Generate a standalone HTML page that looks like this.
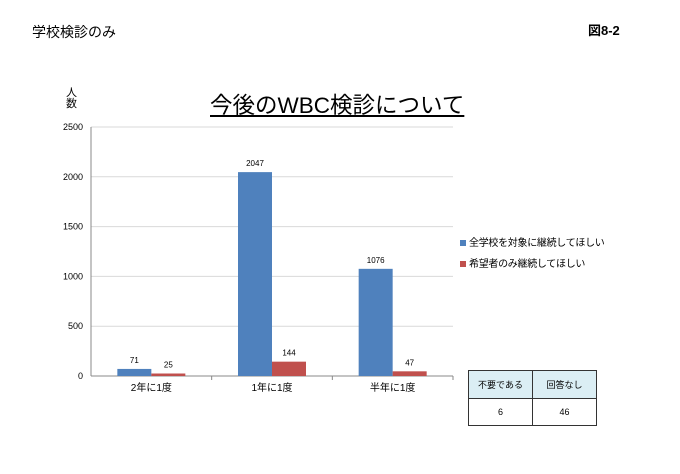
<!DOCTYPE html>
<html><head><meta charset="utf-8"><style>
body{margin:0;width:680px;height:474px;background:#fff;font-family:"Liberation Sans","Noto Sans CJK JP",sans-serif;position:relative;overflow:hidden}
.a{position:absolute}
</style></head><body>
<div class="a" style="left:32px;top:22px;font-size:14px">学校検診のみ</div>
<div class="a" style="left:588px;top:20px;font-size:13px;font-weight:bold">図8-2</div>
<div class="a" style="left:210px;top:88px;font-size:22.5px;text-decoration:underline">今後のWBC検診について</div>
<div class="a" style="left:66px;top:88px;font-size:11px;line-height:11px;width:12px">人<br>数</div>
<svg class="a" style="left:0;top:0" width="680" height="474" id="c"></svg>
<div class="a" style="left:460px;top:234px;font-size:10px;letter-spacing:-0.3px"><span style="display:inline-block;width:6px;height:6px;background:#4f81bd;margin-right:3px"></span>全学校を対象に継続してほしい</div>
<div class="a" style="left:460px;top:255px;font-size:10px;letter-spacing:-0.3px"><span style="display:inline-block;width:6px;height:6px;background:#c0504d;margin-right:3px"></span>希望者のみ継続してほしい</div>
<table class="a" style="left:468px;top:370px;border-collapse:collapse;font-size:9px;text-align:center">
<tr style="background:#dbeef4;height:28px"><td style="border:1px solid #333;width:63px;padding:0">不要である</td><td style="border:1px solid #333;width:63px;padding:0">回答なし</td></tr>
<tr style="height:27px"><td style="border:1px solid #333;padding:0">6</td><td style="border:1px solid #333;padding:0">46</td></tr>
</table>
<script>
const categories=["2年に1度","1年に1度","半年に1度"];
const seriesAll=[71,2047,1076];
const seriesHope=[25,144,47];
const ticks=[0,500,1000,1500,2000,2500];
const svg=document.getElementById('c');const NS='http://www.w3.org/2000/svg';
const x0=91,x1=453,y0=376,yTop=127,max=2500;
const y=v=>y0-(v/max)*(y0-yTop);
const band=(x1-x0)/categories.length;
function mk(t,a,txt){const e=document.createElementNS(NS,t);for(const k in a)e.setAttribute(k,a[k]);if(txt!=null)e.textContent=txt;svg.appendChild(e);return e;}
ticks.forEach(t=>{
 const l=mk('line',{x1:x0,x2:x1,y1:y(t),y2:y(t),stroke:t?'#d9d9d9':'#888'});
 
 
 const tx=mk('text',{x:x0-8,y:y(t)+3,'font-size':9,'text-anchor':'end'},t);
 
 
});
mk('line',{x1:x0,x2:x0,y1:yTop,y2:y0,stroke:'#888'});
categories.forEach((c,i)=>{
 const cx=x0+band*(i+0.5),w=34;
 const b1=mk('rect',{x:cx-w,y:y(seriesAll[i]),width:w,height:y0-y(seriesAll[i]),fill:'#4f81bd'});
 
 
 const b2=mk('rect',{x:cx,y:y(seriesHope[i]),width:w,height:y0-y(seriesHope[i]),fill:'#c0504d'});
 
 
 const l1=mk('text',{x:cx-w/2,y:y(seriesAll[i])-6,'font-size':8,'text-anchor':'middle'},seriesAll[i]);
 
 
 const l2=mk('text',{x:cx+w/2,y:y(seriesHope[i])-6,'font-size':8,'text-anchor':'middle'},seriesHope[i]);
 
 
 const cl=mk('text',{x:cx,y:y0+15,'font-size':10,'text-anchor':'middle'},c);
 
 
 const tk=mk('line',{x1:x0+band*(i+1),x2:x0+band*(i+1),y1:y0,y2:y0+4,stroke:'#888'});
 
 
});
</script>
</body></html>
